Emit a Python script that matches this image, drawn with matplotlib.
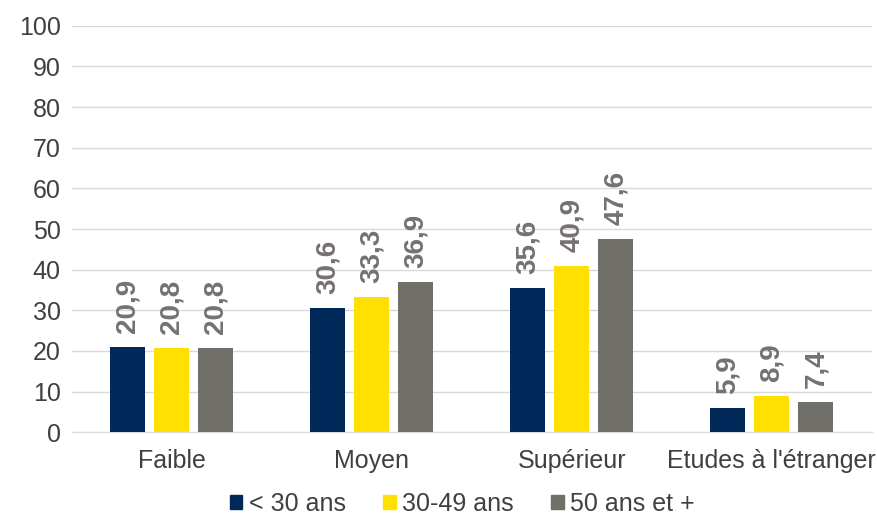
import numpy as np
import matplotlib.pyplot as plt
from matplotlib.patches import Patch

plt.rcParams['font.family'] = ['Liberation Sans', 'DejaVu Sans']

categories = ['Faible', 'Moyen', 'Supérieur', "Etudes à l'étranger"]
series_names = ['< 30 ans', '30-49 ans', '50 ans et +']
under_30 = [20.9, 30.6, 35.6, 5.9]
age_30_49 = [20.8, 33.3, 40.9, 8.9]
over_50 = [20.8, 36.9, 47.6, 7.4]
colors = ['#002858', '#FFE000', '#706F6A']

fig = plt.figure(figsize=(8.77, 5.17), dpi=100)
ax = fig.add_axes([0.082, 0.164, 0.912, 0.786])

x = np.arange(len(categories))
width = 0.175
offsets = [-0.22, 0, 0.22]

for vals, off, col in zip([under_30, age_30_49, over_50], offsets, colors):
    bars = ax.bar(x + off, vals, width, color=col, zorder=3)
    for b, v in zip(bars, vals):
        ax.annotate(f'{v:.1f}'.replace('.', ','),
                    (b.get_x() + b.get_width() / 2, b.get_height()),
                    xytext=(0, 10), textcoords='offset points',
                    rotation=90, ha='center', va='bottom',
                    fontsize=20, fontweight='bold', color='#767171')

ax.set_ylim(0, 100)
ax.set_xlim(-0.5, 3.5)
ax.set_yticks(range(0, 101, 10))
ax.set_xticks(x)
ax.set_xticklabels(categories)
ax.tick_params(axis='both', length=0, labelsize=18, colors='#404040', pad=8)
ax.tick_params(axis='x', pad=12)
ax.grid(axis='y', color='#D9D9D9', linewidth=1, zorder=0)
for s in ['top', 'right', 'left']:
    ax.spines[s].set_visible(False)
ax.spines['bottom'].set_color('#D9D9D9')

handles = [Patch(color=c) for c in colors]
fig.legend(handles, series_names, loc='lower center', ncol=3,
           bbox_to_anchor=(0.527, -0.042), frameon=False, fontsize=18,
           handlelength=0.5, handleheight=0.5, handletextpad=0.25,
           columnspacing=1.5, labelcolor='#404040')

fig.savefig('out.png', dpi=100)
